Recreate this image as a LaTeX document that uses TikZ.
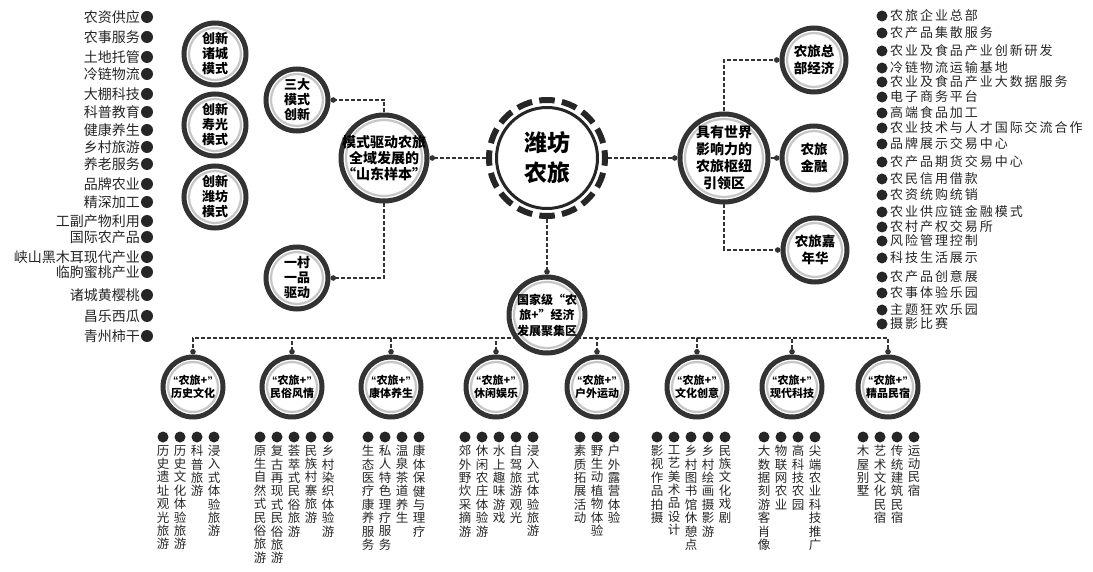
\documentclass[tikz,border=0pt]{standalone}
\usepackage{fontspec}
\setmainfont{Noto Sans CJK SC}
\newfontfamily\spacedfont{Noto Sans CJK SC}[LetterSpace=15]
\newfontfamily\quotefont{Liberation Sans}
\usetikzlibrary{arrows.meta}
\pgfdeclarelayer{bg}
\pgfsetlayers{bg,main}

\newcommand\nlplus{{\quotefont “}农旅+{\quotefont ”}}
\newcommand\vchar[1]{\ifx\relax#1\else\hbox to 1em{\hss#1\hss}\expandafter\vchar\fi}
\newcommand\vtext[1]{\edef\vtmp{#1}\vbox{\baselineskip=13.4pt\lineskiplimit=-20pt\expandafter\vchar\vtmp\relax}}

\begin{document}
\begin{tikzpicture}[x=1pt,y=-1pt,
    ring/.style={circle, minimum size=#1, inner sep=-8pt, fill=white, draw=black!80, line width=5pt, align=center,
      path picture={\draw[solid, gray!45, line width=2.2pt] (path picture bounding box.center) circle ({(#1/2-5)*1pt});}},
    link/.style={draw=black!80, line width=1.3pt, dash pattern=on 4pt off 2pt, -{Circle[length=5.5pt]}}]

      \useasboundingbox (0,0) rectangle (1093,572);

      \node[circle, minimum size=116, inner sep=0pt, fill=white, draw=black!85, line width=6pt,
        dash pattern=on 15.5pt off 7.276pt, dash phase=7.75pt, align=center,
        font=\fontsize{23}{30}\selectfont\bfseries,
        path picture={\draw[solid, black!85, line width=3pt] (path picture bounding box.center) circle (50.5pt);}]
        (weifang) at (547,158) {潍坊\\农旅};

      \node[ring=86, font=\fontsize{14}{16}\selectfont\bfseries] (shandong) at (384,158) {模式驱动农旅\\全域发展的\\“山东样本”};
      \node[ring=62, font=\fontsize{13}{15}\selectfont\bfseries] (sanda) at (297,100) {三大\\模式\\创新};
      \node[ring=62, font=\fontsize{13}{15}\selectfont\bfseries] (yicun) at (297,278) {一村\\一品\\驱动};
      \node[ring=62, font=\fontsize{13}{15}\selectfont\bfseries] (zhucheng) at (215,54) {创新\\诸城\\模式};
      \node[ring=62, font=\fontsize{13}{15}\selectfont\bfseries] (shouguang) at (215,125) {创新\\寿光\\模式};
      \node[ring=62, font=\fontsize{13}{15}\selectfont\bfseries] (weifangms) at (215,197) {创新\\潍坊\\模式};

      \node[ring=88, font=\fontsize{14}{17}\selectfont\bfseries] (shuniu) at (724,158) {具有世界\\影响力的\\农旅枢纽\\引领区};
      \node[ring=64, font=\fontsize{13.5}{17}\selectfont\bfseries] (zongbu) at (814,60) {农旅总\\部经济};
      \node[ring=64, font=\fontsize{13.5}{17}\selectfont\bfseries] (jinrong) at (814,158) {农旅\\金融};
      \node[ring=64, font=\fontsize{13.5}{17}\selectfont\bfseries] (jianianhua) at (815,250) {农旅嘉\\年华};

      \node[ring=76, font=\fontsize{12}{15.5}\selectfont\bfseries] (jijuqu) at (547,315) {国家级“农\\旅+”经济\\发展聚集区};

      \foreach \x/\n/\txt in {193/lishi/历史文化, 292/minsu/民俗风情, 391/kangti/康体养生, 496/xiuxian/休闲娱乐,
          597/huwai/户外运动, 697/wenchuang/文化创意, 792/keji/现代科技, 888/minsu2/精品民宿}
        \node[ring=60, font=\fontsize{11}{13}\selectfont\bfseries] (\n) at (\x,387) {\nlplus\\\txt};

      \foreach \y/\txt [count=\k] in {17/农资供应, 37/农事服务, 57/土地托管, 74/冷链物流, 94/大棚科技, 112/科普教育,
          130/健康养生, 147/乡村旅游, 164/养老服务, 184/品牌农业, 202/精深加工, 221/工副产物利用, 237/国际农产品,
          257/峡山黑木耳现代产业, 272/临朐蜜桃产业, 295/诸城黄樱桃, 316/昌乐西瓜, 336/青州柿干}{
        \node[anchor=east, inner sep=0pt, text=black!85, font=\fontsize{14}{14}\selectfont] (left\k) at (140,\y) {\txt};
        \fill[black!85] (147,\y) circle (6);
      }

      \foreach \y/\txt [count=\k] in {16/农旅企业总部, 33/农产品集散服务, 51/农业及食品产业创新研发, 68/冷链物流运输基地,
          82/农业及食品产业大数据服务, 97/电子商务平台, 113/高端食品加工, 128/农业技术与人才国际交流合作,
          144/品牌展示交易中心, 162/农产品期货交易中心, 179/农民信用借款, 195/农资统购统销, 212/农业供应链金融模式,
          227/农村产权交易所, 241/风险管理控制, 258/科技生活展示, 277/农产品创意展, 293/农事体验乐园,
          310/主题狂欢乐园, 324/摄影比赛}{
        \node[anchor=west, inner sep=0pt, text=black!85, font=\spacedfont\fontsize{13}{13}\selectfont] (right\k) at (890,\y) {\txt};
        \fill[black!85] (882,\y) circle (5.5);
      }

      \foreach \x/\items [count=\g] in {163/{历史遗址观光旅游,历史文化体验旅游,科普旅游,浸入式体验旅游},
          260/{原生自然式民俗旅游,复古再现式民俗旅游,荟萃式民俗旅游,民族村寨旅游,乡村染织体验游},
          368/{生态医疗康养服务,私人特色理疗服务,温泉茶道养生,康体保健与理疗},
          465/{郊外野炊采摘游,休闲农庄体验游,水上趣味游戏,自驾旅游观光,浸入式体验旅游},
          580/{素质拓展活动,野生动植物体验,户外露营体验},
          657/{影视作品拍摄,工艺美术品设计,乡村图书馆休憩点,乡村绘画摄影游,民族文化戏剧},
          764/{大数据刻游客肖像,物联网农业,高科技农园,尖端农业科技推广},
          863/{木屋别墅,艺术文化民宿,传统建筑民宿,运动民宿}}
        \foreach \txt [count=\k] in \items {
          \fill[black!85] (\x+17*\k-17,437) circle (5.5);
          \node[anchor=north, inner sep=0pt, text=black!85, font=\fontsize{12.5}{13.4}\selectfont] (item\g-\k) at (\x+17*\k-17,445) {\vtext{\txt}};
        }

      \begin{pgfonlayer}{bg}
        \draw[link] (weifang) -- (shandong);
        \draw[link] (shandong) |- (sanda);
        \draw[link] (shandong) |- (yicun);
        \draw[link] (weifang) -- (shuniu);
        \draw[link] (shuniu) |- (zongbu);
        \draw[link] (shuniu) -- (jinrong);
        \draw[link] (shuniu) |- (jianianhua);
        \draw[link] (weifang) -- (jijuqu);
        \coordinate (bus) at (547,338);
        \foreach \n in {lishi,minsu,kangti,xiuxian,huwai,wenchuang,keji,minsu2}
          \draw[link] (bus) -| (\n);
      \end{pgfonlayer}
    \end{tikzpicture}
\end{document}
